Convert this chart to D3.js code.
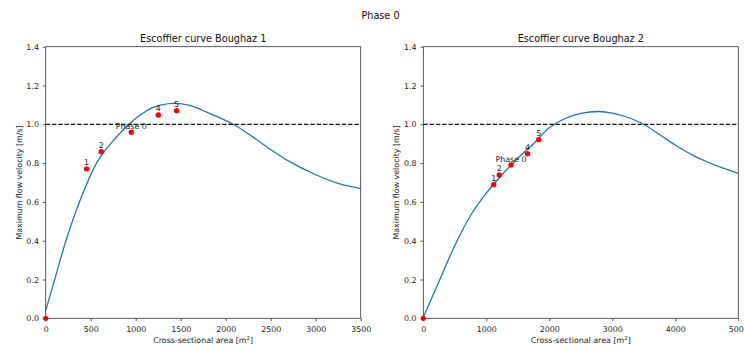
<!DOCTYPE html>
<html>
<head>
<meta charset="utf-8">
<script src="https://cdn.jsdelivr.net/npm/d3@7/dist/d3.min.js"></script>
<style>
	body { margin: 0; background: #fff; }
	svg { display: block; font-family: "DejaVu Sans", sans-serif; }
	.tick text { fill: #222; }
</style>
</head>
<body>
<div id="chart"></div>
<script>
// Phase 0 figure: two Escoffier curves side by side

var figTitle = "Phase 0";
var panelTitles = ["Escoffier curve Boughaz 1", "Escoffier curve Boughaz 2"];
var xMax = [3500, 5000];
var xTicks = [[0, 500, 1000, 1500, 2000, 2500, 3000, 3500], [0, 1000, 2000, 3000, 4000, 5000]];
var yTicks = [0, 0.2, 0.4, 0.6, 0.8, 1.0, 1.2, 1.4];
var criticalVelocity = 1.0;

// curve, [area, velocity]
var curve1 = [[0, 0.04], [50, 0.12], [100, 0.2], [225, 0.4], [375, 0.6], [565, 0.8], [650, 0.86],
	[750, 0.915], [900, 0.99], [1000, 1.03], [1200, 1.088], [1418, 1.108], [1600, 1.097], [1800, 1.06],
	[2085, 1.0], [2300, 0.935], [2500, 0.87], [2700, 0.81], [3000, 0.74], [3250, 0.695], [3500, 0.668]];
var curve2 = [[0, 0.005], [250, 0.19], [500, 0.375], [750, 0.53], [1000, 0.645], [1250, 0.74],
	[1500, 0.825], [1750, 0.9], [2000, 0.982], [2250, 1.03], [2500, 1.056], [2780, 1.066],
	[3000, 1.058], [3250, 1.035], [3500, 1.0], [3750, 0.947], [4000, 0.893], [4250, 0.845],
	[4500, 0.807], [4750, 0.775], [5000, 0.747]];

// labelled states
var labels = ["1", "2", "Phase 0", "4", "5"];
var area1 = [455, 618, 951, 1251, 1455];
var vel1 = [0.77, 0.859, 0.959, 1.048, 1.07];
var area2 = [1117, 1206, 1392, 1655, 1832];
var vel2 = [0.689, 0.739, 0.79, 0.848, 0.921];

var W = 744, H = 347;
var panelLeft = [45.7, 423.3];
var plotW = 315, plotTop = 46.7, plotH = 271.6;

var svg = d3.select("#chart").append("svg")
	.attr("width", W)
	.attr("height", H);

svg.append("text")
	.attr("x", 380.5)
	.attr("y", 19)
	.attr("text-anchor", "middle")
	.attr("font-size", 9.7)
	.attr("fill", "#111")
	.text(figTitle);

var panels = [
	{curve: curve1, area: area1, vel: vel1},
	{curve: curve2, area: area2, vel: vel2}
];

panels.forEach(function(p, i){
	var g = svg.append("g").attr("transform", "translate(" + panelLeft[i] + "," + plotTop + ")");

	var x = d3.scaleLinear().domain([0, xMax[i]]).range([0, plotW]);
	var y = d3.scaleLinear().domain([0, 1.4]).range([plotH, 0]);

	// axes
	var xAxis = g.append("g")
		.attr("transform", "translate(0," + plotH + ")")
		.call(d3.axisBottom(x).tickValues(xTicks[i]).tickFormat(d3.format("d")).tickSize(3).tickSizeOuter(0));
	var yAxis = g.append("g")
		.call(d3.axisLeft(y).tickValues(yTicks).tickFormat(d3.format(".1f")).tickSize(3).tickSizeOuter(0));
	[xAxis, yAxis].forEach(function(a){
		a.select(".domain").remove();
		a.selectAll(".tick line").attr("stroke", "#333").attr("stroke-width", 0.8);
		a.selectAll(".tick text").attr("font-size", 7.9).attr("font-family", "DejaVu Sans");
	});
	xAxis.selectAll(".tick text").attr("dy", "0.95em");
	yAxis.selectAll(".tick text").attr("dx", "-0.1em");

	// curve
	var line = d3.line()
		.x(function(d){ return x(d[0]); })
		.y(function(d){ return y(d[1]); })
		.curve(d3.curveCatmullRom.alpha(0.5));
	g.append("path")
		.datum(p.curve)
		.attr("d", line)
		.attr("fill", "none")
		.attr("stroke", "#1f77b4")
		.attr("stroke-width", 1.3);

	// critical velocity
	g.append("line")
		.attr("x1", 0).attr("x2", plotW)
		.attr("y1", y(criticalVelocity)).attr("y2", y(criticalVelocity))
		.attr("stroke", "#111")
		.attr("stroke-width", 1.2)
		.attr("stroke-dasharray", "4.4,1.9");

	// origin point and states
	g.append("circle")
		.attr("cx", x(0)).attr("cy", y(0)).attr("r", 2.6)
		.attr("fill", "red");
	p.area.forEach(function(a, k){
		g.append("circle")
			.attr("cx", x(a)).attr("cy", y(p.vel[k])).attr("r", 2.7)
			.attr("fill", "red");
		g.append("text")
			.attr("x", x(a))
			.attr("y", y(p.vel[k]) - 3.5)
			.attr("text-anchor", "middle")
			.attr("font-size", 7.9)
			.attr("fill", "#222")
			.text(labels[k]);
	});

	// frame
	g.append("rect")
		.attr("width", plotW).attr("height", plotH)
		.attr("fill", "none")
		.attr("stroke", "#333")
		.attr("stroke-width", 0.8);

	// titles and labels
	g.append("text")
		.attr("x", plotW / 2).attr("y", -4.5)
		.attr("text-anchor", "middle")
		.attr("font-size", 9.7)
		.attr("fill", "#111")
		.text(panelTitles[i]);

	var xl = g.append("text")
		.attr("x", plotW / 2).attr("y", plotH + 25)
		.attr("text-anchor", "middle")
		.attr("font-size", 7.9)
		.attr("fill", "#222");
	xl.append("tspan").text("Cross-sectional area [m");
	xl.append("tspan").attr("font-size", 5.5).attr("dy", -3.5).text("2");
	xl.append("tspan").attr("dy", 3.5).text("]");

	g.append("text")
		.attr("transform", "translate(-24," + (plotH / 2) + ") rotate(-90)")
		.attr("text-anchor", "middle")
		.attr("font-size", 7.9)
		.attr("fill", "#222")
		.text("Maximum flow velocity [m/s]");
});
</script>
</body>
</html>
